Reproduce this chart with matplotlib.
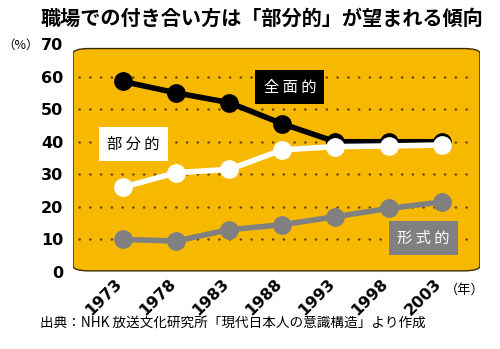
import matplotlib
matplotlib.use("Agg")
import matplotlib.pyplot as plt
import matplotlib.transforms as mtransforms
from matplotlib.patches import FancyBboxPatch

plt.rcParams['font.family'] = ['Noto Sans CJK JP', 'DejaVu Sans']

# データ
years = [1973, 1978, 1983, 1988, 1993, 1998, 2003]
zenmen = [58.5, 55, 52, 45.5, 40, 40, 40]       # 全面的
bubun = [26, 30.5, 31.5, 37.5, 38.5, 38.7, 39]  # 部分的
keishiki = [10, 9.5, 13, 14.5, 17, 19.5, 21.5]  # 形式的
yticks = [0, 10, 20, 30, 40, 50, 60, 70]

W, H = 500, 349
fig = plt.figure(figsize=(W / 100, H / 100), dpi=100)
fig.patch.set_facecolor('white')

# 軸の位置 (ピクセル換算)
x0, x1 = 73, 480
y0, y1 = 272, 44
ax = fig.add_axes([x0 / W, 1 - y0 / H, (x1 - x0) / W, (y0 - y1) / H])
ax.set_xlim(1968.3, 2006.6)
ax.set_ylim(0, 70)
ax.set_facecolor('none')
for s in ax.spines.values():
    s.set_visible(False)

# 背景パネル
panel = FancyBboxPatch((0.0, 0.005), 1.0, 0.975, transform=ax.transAxes,
                       boxstyle="round,pad=0,rounding_size=0.04",
                       fc='#F7B900', ec='#3a2a00', lw=1.0, zorder=0,
                       mutation_aspect=(y0 - y1) / (x1 - x0))
ax.add_patch(panel)

# 点線グリッド
for yv in yticks[1:-1]:
    ax.plot([1968.9, 2006.2], [yv, yv], color='#6b4a00', lw=1.8,
            linestyle=(0, (0.1, 4.2)), dash_capstyle='round', zorder=1)

kw = dict(lw=4.0, marker='o', ms=12.5, zorder=3, solid_capstyle='round')
ax.plot(years, zenmen, color='black', **kw)
ax.plot(years, bubun, color='white', **kw)
ax.plot(years, keishiki, color='#808080', **kw)

# 目盛り
ax.set_yticks(yticks)
ax.set_yticklabels([str(v) for v in yticks], fontsize=11.5, fontweight='bold',
                   family='DejaVu Sans')
ax.set_xticks(years)
ax.set_xticklabels([str(v) for v in years], fontsize=11.5, fontweight='bold',
                   rotation=45, ha='right', va='top', rotation_mode='anchor',
                   family='DejaVu Sans')
ax.tick_params(axis='both', length=0)
ax.tick_params(axis='y', pad=7)
ax.tick_params(axis='x', pad=7)
# 年ラベルを少し左上へずらす
off = mtransforms.ScaledTranslation(-6 / 72, 4 / 72, fig.dpi_scale_trans)
for lb in ax.get_xticklabels():
    lb.set_transform(lb.get_transform() + off)

# 系列ラベル
def label(text, x, y, fc, tc):
    ax.text(x, y, text, fontsize=11, color=tc, ha='center', va='center',
            zorder=5,
            bbox=dict(boxstyle='square,pad=0.55', fc=fc, ec='none'))

label('全 面 的', 1988.7, 56.8, 'black', 'white')
label('部 分 的', 1974.0, 39.3, 'white', 'black')
label('形 式 的', 2001.3, 10.4, '#808080', 'white')

# タイトル・注記
fig.text(262 / W, 1 - 18 / H, '職場での付き合い方は「部分的」が望まれる傾向',
         ha='center', va='center', fontsize=14.5, fontweight='bold')
fig.text(21 / W, 1 - 45 / H, '（%）', ha='center', va='center', fontsize=9)
fig.text(465 / W, 1 - 290 / H, '（年）', ha='center', va='center', fontsize=9.5)
fig.text(40 / W, 1 - 323 / H,
         '出典：NHK 放送文化研究所「現代日本人の意識構造」より作成',
         ha='left', va='center', fontsize=9.8)

fig.savefig('out.png', dpi=100)
